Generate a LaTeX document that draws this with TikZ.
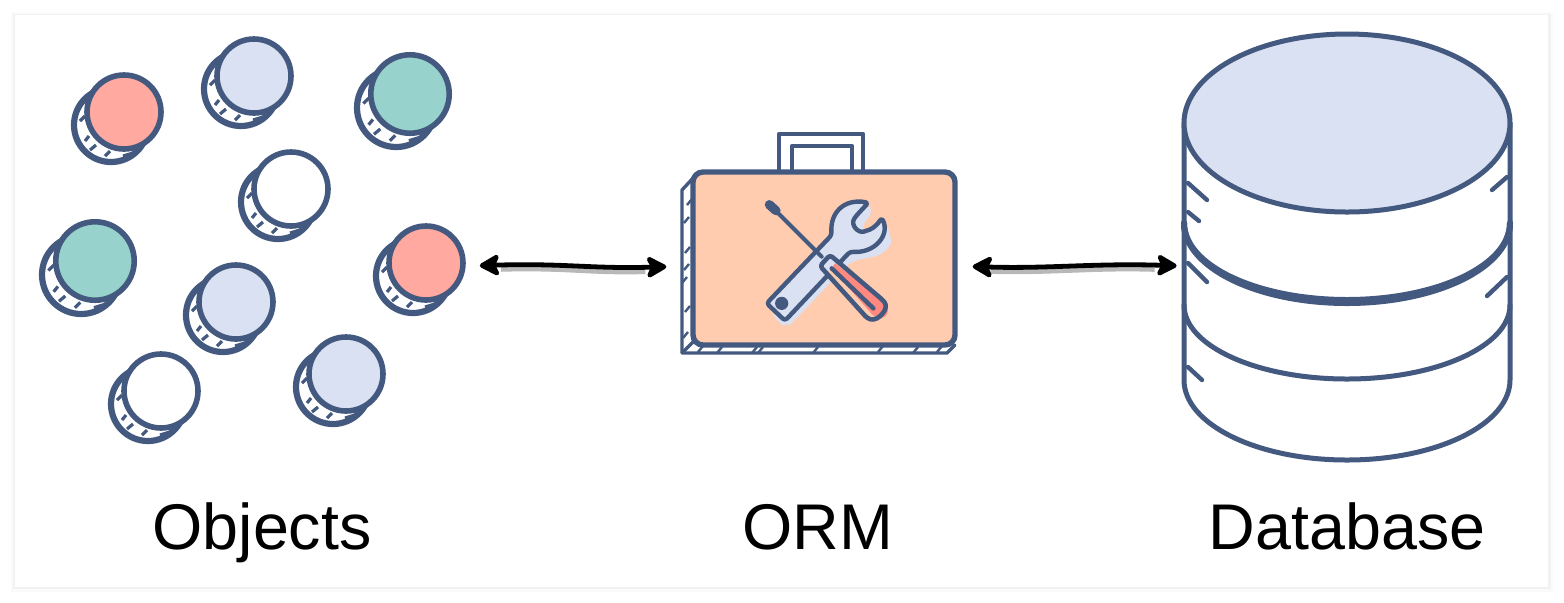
\documentclass[tikz,border=0pt]{standalone}
\usepackage{xcolor}
\usepackage{fontspec}
\usetikzlibrary{arrows.meta,shapes.geometric}
\setmainfont{Liberation Sans}
\definecolor{inkblue}{HTML}{44597F}
\definecolor{paleblue}{HTML}{DAE1F2}
\definecolor{coinred}{HTML}{FFA9A0}
\definecolor{coingreen}{HTML}{97D3CC}
\definecolor{caseorange}{HTML}{FFCCB0}
\definecolor{gripred}{HTML}{FF8880}
\tikzset{
  coinback/.style={circle, draw=inkblue, fill=white, line width=3.1pt, inner sep=0pt},
  coinface/.style={coinback, fill=#1},
  hatchline/.style={inkblue, line width=1.6pt},
  inkline/.style={inkblue, line width=2.5pt, line join=round, line cap=round},
  linkarrow/.style={black, line width=2.4pt, {Stealth[length=12pt,width=13pt,inset=3pt,round]}-{Stealth[length=12pt,width=13pt,inset=3pt,round]}},
  linkshade/.style={black!28, line width=3.2pt},
  caption/.style={black, anchor=base, inner sep=0pt, font=\fontsize{32.3}{36}\selectfont}
}

\begin{document}
\begin{tikzpicture}[x=0.5pt, y=-0.5pt]
\useasboundingbox (0,0) rectangle (1564,602);
% card with a soft edge
\fill[black!2] (11,12) rectangle (1553,592);
\fill[black!5] (13,14) rectangle (1551,589);
\fill[white] (15,15) rectangle (1548,587);

% objects
\foreach \cname/\cx/\cy/\cs/\cfill in {coina/124/112/1/coinred, coinb/254/76/1/paleblue, coinc/410/94/1.06/coingreen,
  coind/291/189/1/white, coine/95/261/1.06/coingreen, coinf/426/263/1/coinred,
  coing/236/302/1/paleblue, coinh/161/391/1/white, coini/346/374/1/paleblue}{
  \node[coinback, minimum size=\cs*37pt] (\cname back) at (\cx-\cs*13,\cy+\cs*13) {};
  \foreach \ax/\ay/\bx/\by in {-44/9/-39/4, -39/29/-35/24, -34/38/-28/33, -19/44/-14/39, -1/44/9/41}
    \draw[hatchline] (\cx+\cs*\ax,\cy+\cs*\ay) -- (\cx+\cs*\bx,\cy+\cs*\by);
  \node[coinface=\cfill, minimum size=\cs*37pt, line width=2.8pt] (\cname) at (\cx,\cy) {};
}

% suitcase
\draw[inkline, line width=2.2pt, fill=white] (779,172) -- (779,134) -- (863,134) -- (863,172);
\draw[inkline, line width=2.2pt] (792,172) -- (792,146) -- (852,146) -- (852,172);
\draw[inkline, line width=1.7pt, fill=white] (695,176) -- (682,190) -- (682,353) -- (947,353) -- (955,345);
\draw[inkline, line width=1.7pt] (682,353) -- (693,342);
\foreach \tx/\ty in {687/205, 684/223, 685/253, 684/270, 682/283, 685/312, 683/338}
  \draw[hatchline, line width=1.2pt] (\tx,\ty) -- ++(5,-6);
\foreach \tx/\ty in {698/352, 717/353, 752/353, 758/353, 813/353, 878/352, 913/353, 937/352}
  \draw[hatchline, line width=1.2pt] (\tx,\ty) -- ++(5,-6);
\node[draw=inkblue, fill=caseorange, line width=2.7pt, rounded corners=5pt, inner sep=0pt,
  minimum width=131pt, minimum height=86.5pt] (ormbox) at (824,258.5) {};

% tools, drawn on the crop grid
\begin{scope}[shift={(750,190)}, x=0.1667pt, y=-0.1667pt]
\fill[paleblue, rounded corners=4pt] (60,355) -- (85,400) -- (110,410) -- (125,400) -- (300,215) -- (345,205)
  .. controls (400,195) and (425,165) .. (420,130) -- (408,105) -- (380,130) -- (345,140) -- (332,110)
  -- (372,62) -- (350,40) -- (245,135) -- cycle;
\draw[inkline, line width=2.2pt, fill=paleblue, rounded corners=1.5pt] (50,340) -- (245,135)
  .. controls (240,70) and (280,25) .. (355,38) -- (318,78) .. controls (300,105) and (325,130) .. (350,122)
  .. controls (370,115) and (385,100) .. (395,83) .. controls (420,135) and (375,190) .. (300,185)
  -- (105,392) -- cycle;
\fill[inkblue] (95,340) circle[radius=3.3pt];
\draw[inkline, line width=2pt] (70,55) -- (215,200);
\draw[inkline, line width=4.6pt] (58,44) -- (78,62);
\fill[caseorange] (207,228) -- (240,195) -- (395,330) .. controls (415,355) and (385,395) .. (350,388) -- cycle;
\fill[paleblue] (212,228) -- (240,198) -- (258,218) -- (232,245) -- cycle;
\fill[gripred] (255,220) -- (400,335) .. controls (420,350) and (420,385) .. (385,385) -- (368,375) -- (245,235) -- cycle;
\draw[inkline, line width=2.3pt, rounded corners=1.5pt] (210,228) -- (240,195) -- (398,330)
  .. controls (418,355) and (385,395) .. (352,385) -- cycle;
\draw[inkline, line width=2.2pt] (245,235) -- (370,355);
\end{scope}

% database
\draw[inkline] (1184,123) -- (1184,380) arc[start angle=180, end angle=360, x radius=81.5pt, y radius=40pt] -- (1510,123);
\draw[inkline, line width=3pt] (1184,223) arc[start angle=180, end angle=360, x radius=81.5pt, y radius=38.5pt];
\draw[inkline, line width=3pt] (1184,223) arc[start angle=180, end angle=360, x radius=81.5pt, y radius=40pt];
\draw[inkline] (1184,305) arc[start angle=180, end angle=360, x radius=81.5pt, y radius=37pt];
\foreach \ax/\ay/\bx/\by in {1188/183/1207/200, 1188/212/1199/221, 1188/263/1207/282, 1188/367/1202/380, 1507/177/1492/190, 1507/277/1487/296}
  \draw[inkline, line width=2.2pt] (\ax,\ay) -- (\bx,\by);
\node[ellipse, draw=inkblue, fill=paleblue, line width=2.5pt, inner sep=0pt,
  minimum width=163pt, minimum height=89pt] (dbtop) at (1347,123) {};
\node[minimum width=163pt, minimum height=192pt, inner sep=0pt] (dbbody) at (1347,266) {};

% links
\draw[linkshade, shorten <=17.5pt, shorten >=22.5pt] ([yshift=-3.3pt]coinf.east) .. controls +(100,-3) and +(-100,3) .. ([yshift=-5.5pt]ormbox.west);
\draw[linkarrow, shorten <=7pt, shorten >=12pt] ([yshift=-1.5pt]coinf.east) .. controls +(100,-3) and +(-100,3) .. ([yshift=-3.75pt]ormbox.west);
\draw[linkshade, shorten <=16.5pt, shorten >=14.5pt] ([yshift=-5.5pt]ormbox.east) .. controls +(90,3) and +(-90,-3) .. ([yshift=-1.8pt]dbbody.west);
\draw[linkarrow, shorten <=7.5pt, shorten >=3.5pt] ([yshift=-3.75pt]ormbox.east) .. controls +(90,3) and +(-90,-3) .. (dbbody.west);

% labels
\node[caption] (objectslabel) at (262,549) {Objects};
\node[caption] (ormlabel) at (818,549) {ORM};
\node[caption] (dblabel) at (1347,549) {Database};
\end{tikzpicture}
\end{document}
